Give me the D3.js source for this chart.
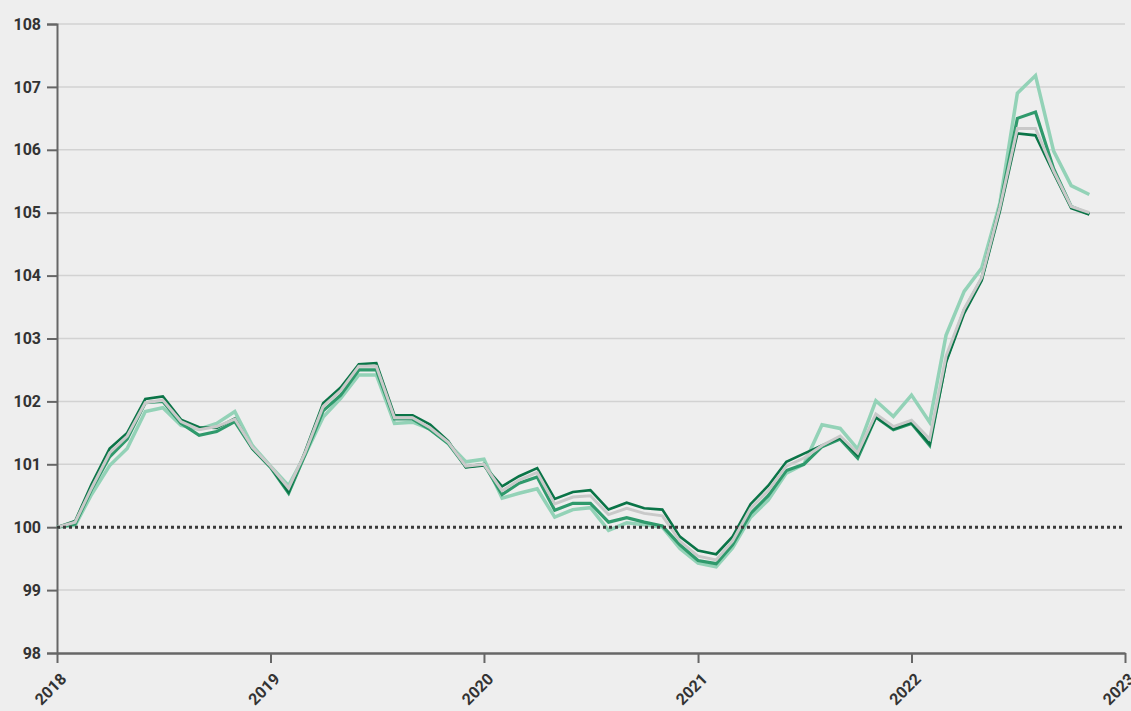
<!DOCTYPE html>
<html>
<head>
<meta charset="utf-8">
<script src="https://cdn.jsdelivr.net/npm/d3@7"></script>
<style>
  html, body { margin: 0; padding: 0; background: #eeeeee; }
  #chart { width: 1131px; height: 711px; }
  text { font-family: Roboto, "Noto Sans", sans-serif; }
</style>
</head>
<body>
<div id="chart"></div>
<script>
// monthly index values, Jan 2018 .. Nov 2022 (2018-01 = 100)
const startYear = 2018;
const yTicks = [98, 99, 100, 101, 102, 103, 104, 105, 106, 107, 108];
const xTickYears = [2018, 2019, 2020, 2021, 2022, 2023];

const seriesDark = [100, 100.1, 100.68, 101.25, 101.5, 102.04, 102.08, 101.71, 101.59, 101.58, 101.73, 101.25,
  100.96, 100.56, 101.2, 101.97, 102.22, 102.59, 102.61, 101.78, 101.78, 101.63, 101.37, 100.95,
  100.98, 100.65, 100.81, 100.94, 100.45, 100.56, 100.59, 100.28, 100.39, 100.3, 100.28, 99.85,
  99.63, 99.57, 99.85, 100.37, 100.66, 101.04, 101.17, 101.3, 101.42, 101.14, 101.75, 101.56,
  101.66, 101.32, 102.62, 103.4, 103.92, 105.02, 106.26, 106.23, 105.63, 105.07, 104.97];

const seriesMid = [100, 100.05, 100.6, 101.12, 101.4, 101.98, 102.0, 101.65, 101.46, 101.52, 101.68, 101.25,
  100.95, 100.54, 101.15, 101.85, 102.1, 102.5, 102.5, 101.72, 101.72, 101.55, 101.33, 100.96,
  101.0, 100.52, 100.7, 100.8, 100.27, 100.38, 100.38, 100.08, 100.15, 100.08, 100.02, 99.72,
  99.47, 99.42, 99.72, 100.22, 100.5, 100.9, 101.0, 101.28, 101.4, 101.1, 101.75, 101.55,
  101.65, 101.3, 102.65, 103.45, 103.95, 105.1, 106.5, 106.6, 105.7, 105.1, 104.98];

const seriesLight = [100, 100.03, 100.52, 100.98, 101.25, 101.84, 101.9, 101.62, 101.56, 101.65, 101.84, 101.3,
  100.97, 100.66, 101.15, 101.75, 102.05, 102.42, 102.42, 101.65, 101.67, 101.56, 101.33, 101.04,
  101.08, 100.46, 100.54, 100.61, 100.16, 100.28, 100.31, 99.95, 100.07, 100.04, 100.0, 99.66,
  99.43, 99.37, 99.67, 100.16, 100.43, 100.86, 101.0, 101.63, 101.57, 101.24, 102.01, 101.76,
  102.1, 101.67, 103.05, 103.75, 104.12, 105.15, 106.9, 107.18, 105.98, 105.43, 105.29];

const seriesGrey = [100, 100.08, 100.62, 101.18, 101.45, 101.98, 102.02, 101.68, 101.55, 101.6, 101.72, 101.27,
  100.97, 100.62, 101.18, 101.92, 102.17, 102.56, 102.56, 101.74, 101.74, 101.58, 101.35, 100.97,
  101.0, 100.58, 100.75, 100.87, 100.37, 100.48, 100.5, 100.2, 100.3, 100.22, 100.18, 99.78,
  99.54, 99.48, 99.78, 100.3, 100.58, 100.97, 101.1, 101.3, 101.45, 101.18, 101.8, 101.6,
  101.7, 101.4, 102.72, 103.47, 103.97, 105.08, 106.34, 106.34, 105.66, 105.1, 105.0];

const width = 1131, height = 711;
const margin = { top: 24, right: 6, bottom: 58, left: 57 };

const svg = d3.select("#chart").append("svg")
  .attr("width", width)
  .attr("height", height)
  .attr("viewBox", [0, 0, width, height]);

svg.append("rect").attr("width", width).attr("height", height).attr("fill", "#eeeeee");

const x = d3.scaleTime()
  .domain([new Date(startYear, 0, 1), new Date(2023, 0, 1)])
  .range([margin.left, width - margin.right]);

const y = d3.scaleLinear()
  .domain([98, 108])
  .range([height - margin.bottom, margin.top]);

// gridlines
svg.append("g")
  .selectAll("line")
  .data(yTicks.filter(d => d !== 98 && d !== 100))
  .join("line")
  .attr("x1", margin.left)
  .attr("x2", width - margin.right)
  .attr("y1", d => y(d))
  .attr("y2", d => y(d))
  .attr("stroke", "#d2d2d2")
  .attr("stroke-width", 1.5);

// y axis
const yAxis = svg.append("g")
  .attr("transform", `translate(${margin.left},0)`)
  .call(d3.axisLeft(y).tickValues(yTicks).tickSize(10).tickPadding(6).tickFormat(d3.format("d")));
yAxis.select(".domain").attr("stroke", "#666").attr("stroke-width", 2);
yAxis.selectAll(".tick line").attr("stroke", "#666").attr("stroke-width", 2);
yAxis.selectAll(".tick text")
  .attr("fill", "#333")
  .style("font-size", "16px")
  .style("font-weight", "700");

// x axis
const xAxis = svg.append("g")
  .attr("transform", `translate(0,${height - margin.bottom})`)
  .call(d3.axisBottom(x)
    .tickValues(xTickYears.map(yr => new Date(yr, 0, 1)))
    .tickSize(10)
    .tickSizeOuter(0)
    .tickFormat(d3.timeFormat("%Y")));
xAxis.select(".domain").attr("stroke", "#666").attr("stroke-width", 2.5);
xAxis.selectAll(".tick line").attr("stroke", "#666").attr("stroke-width", 2);
xAxis.selectAll(".tick text")
  .attr("fill", "#333")
  .style("font-size", "16px")
  .style("font-weight", "700")
  .attr("text-anchor", "end")
  .attr("dy", null)
  .attr("y", 0)
  .attr("transform", "translate(10,27) rotate(-45)");

const line = d3.line()
  .x((d, i) => x(new Date(startYear, i, 1)))
  .y(d => y(d));

const series = [
  { values: seriesLight, color: "#93d2b7", width: 3.5 },
  { values: seriesMid, color: "#2f9a6c", width: 3.2 },
  { values: seriesDark, color: "#0a7447", width: 2.6 },
  { values: seriesGrey, color: "#c9c9c9", width: 3 }
];

series.forEach(s => {
  svg.append("path")
    .datum(s.values)
    .attr("fill", "none")
    .attr("stroke", s.color)
    .attr("stroke-width", s.width)
    .attr("stroke-linejoin", "miter")
    .attr("d", line);
});

// reference line at 100
svg.append("line")
  .attr("x1", margin.left)
  .attr("x2", width - margin.right)
  .attr("y1", y(100))
  .attr("y2", y(100))
  .attr("stroke", "#3a3a3a")
  .attr("stroke-width", 3)
  .attr("stroke-dasharray", "3,3");
</script>
</body>
</html>
